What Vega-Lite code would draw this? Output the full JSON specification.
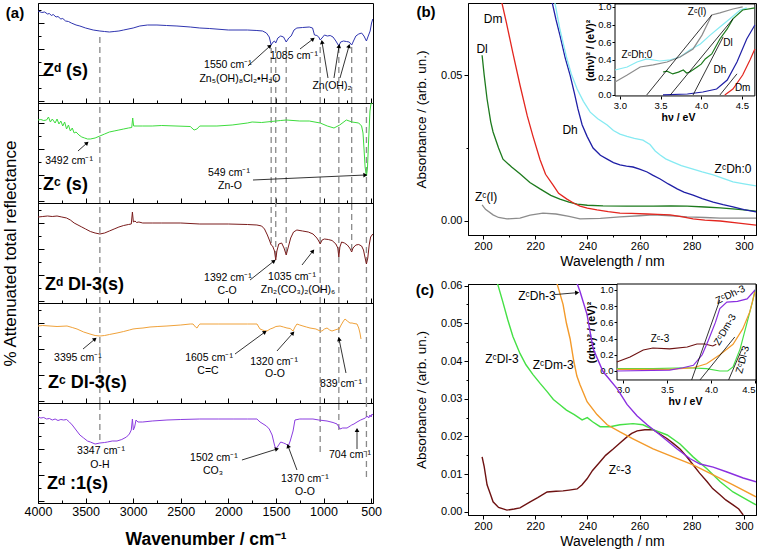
{
"$schema": "https://vega.github.io/schema/vega-lite/v6.json",
"padding": {"left": 0, "top": 1, "right": 0, "bottom": 0},
"background": "white",
"config": {
  "font": "Liberation Sans",
  "view": {"stroke": "black", "strokeWidth": 1},
  "axis": {"grid": false, "domainColor": "black", "tickColor": "black", "labelColor": "black", "titleColor": "black", "titleFontWeight": "normal", "labelFont": "Liberation Sans", "titleFont": "Liberation Sans", "labelFlush": false, "labelOverlap": false},
  "text": {"font": "Liberation Sans", "color": "black"}
},
"datasets": {
"spec": [
{"p":1,"w":4000,"y":92},{"p":1,"w":3960,"y":90.5},{"p":1,"w":3930,"y":91},{"p":1,"w":3900,"y":89},{"p":1,"w":3880,"y":89.5},{"p":1,"w":3860,"y":87.5},{"p":1,"w":3840,"y":88.5},{"p":1,"w":3810,"y":86},{"p":1,"w":3790,"y":86.5},{"p":1,"w":3760,"y":84},{"p":1,"w":3740,"y":84.5},{"p":1,"w":3710,"y":82},{"p":1,"w":3680,"y":81.5},{"p":1,"w":3650,"y":80},{"p":1,"w":3600,"y":78},{"p":1,"w":3560,"y":77},{"p":1,"w":3500,"y":75},{"p":1,"w":3420,"y":73},{"p":1,"w":3350,"y":72},{"p":1,"w":3300,"y":71.5},{"p":1,"w":3250,"y":71},{"p":1,"w":3200,"y":71.5},{"p":1,"w":3150,"y":72},{"p":1,"w":3100,"y":73},{"p":1,"w":3000,"y":75},{"p":1,"w":2930,"y":77},{"p":1,"w":2850,"y":78},{"p":1,"w":2750,"y":78},{"p":1,"w":2650,"y":77.5},{"p":1,"w":2540,"y":77},{"p":1,"w":2400,"y":76},{"p":1,"w":2300,"y":75},{"p":1,"w":2200,"y":74.5},{"p":1,"w":2000,"y":73},{"p":1,"w":1800,"y":73},{"p":1,"w":1700,"y":72.5},{"p":1,"w":1640,"y":72},{"p":1,"w":1600,"y":70},{"p":1,"w":1570,"y":66},{"p":1,"w":1550,"y":58},{"p":1,"w":1530,"y":61},{"p":1,"w":1515,"y":62},{"p":1,"w":1502,"y":60},{"p":1,"w":1480,"y":65},{"p":1,"w":1450,"y":67},{"p":1,"w":1420,"y":66},{"p":1,"w":1392,"y":61},{"p":1,"w":1365,"y":65},{"p":1,"w":1340,"y":67},{"p":1,"w":1310,"y":73},{"p":1,"w":1280,"y":75},{"p":1,"w":1220,"y":75.5},{"p":1,"w":1150,"y":76},{"p":1,"w":1115,"y":75},{"p":1,"w":1095,"y":68},{"p":1,"w":1070,"y":67.5},{"p":1,"w":1050,"y":66},{"p":1,"w":1035,"y":63},{"p":1,"w":1016,"y":65},{"p":1,"w":990,"y":68},{"p":1,"w":960,"y":67},{"p":1,"w":930,"y":67.5},{"p":1,"w":900,"y":66},{"p":1,"w":870,"y":62},{"p":1,"w":839,"y":57},{"p":1,"w":820,"y":61},{"p":1,"w":790,"y":62},{"p":1,"w":760,"y":61.5},{"p":1,"w":730,"y":61},{"p":1,"w":704,"y":58},{"p":1,"w":685,"y":62},{"p":1,"w":660,"y":67},{"p":1,"w":630,"y":69},{"p":1,"w":600,"y":70},{"p":1,"w":575,"y":67},{"p":1,"w":549,"y":62},{"p":1,"w":530,"y":67},{"p":1,"w":510,"y":72},{"p":1,"w":495,"y":80},{"p":1,"w":482,"y":84},
{"p":2,"w":4000,"y":83},{"p":2,"w":3970,"y":83.5},{"p":2,"w":3940,"y":82.5},{"p":2,"w":3910,"y":83},{"p":2,"w":3890,"y":86},{"p":2,"w":3870,"y":81},{"p":2,"w":3850,"y":84},{"p":2,"w":3820,"y":80},{"p":2,"w":3800,"y":84},{"p":2,"w":3780,"y":79},{"p":2,"w":3760,"y":82},{"p":2,"w":3740,"y":77},{"p":2,"w":3720,"y":81},{"p":2,"w":3700,"y":74},{"p":2,"w":3680,"y":78},{"p":2,"w":3660,"y":72},{"p":2,"w":3640,"y":75},{"p":2,"w":3620,"y":70},{"p":2,"w":3600,"y":71},{"p":2,"w":3570,"y":68},{"p":2,"w":3540,"y":66},{"p":2,"w":3510,"y":65},{"p":2,"w":3480,"y":64},{"p":2,"w":3450,"y":64},{"p":2,"w":3400,"y":65},{"p":2,"w":3350,"y":67},{"p":2,"w":3300,"y":69},{"p":2,"w":3250,"y":71},{"p":2,"w":3200,"y":72},{"p":2,"w":3150,"y":73},{"p":2,"w":3100,"y":74},{"p":2,"w":3050,"y":75},{"p":2,"w":3015,"y":75.5},{"p":2,"w":3005,"y":85},{"p":2,"w":2995,"y":77},{"p":2,"w":2950,"y":77},{"p":2,"w":2900,"y":77},{"p":2,"w":2800,"y":77},{"p":2,"w":2700,"y":77.5},{"p":2,"w":2550,"y":77},{"p":2,"w":2400,"y":76.5},{"p":2,"w":2360,"y":73},{"p":2,"w":2330,"y":74},{"p":2,"w":2300,"y":77},{"p":2,"w":2120,"y":77},{"p":2,"w":1960,"y":78},{"p":2,"w":1800,"y":80},{"p":2,"w":1750,"y":81},{"p":2,"w":1650,"y":80.5},{"p":2,"w":1550,"y":81.5},{"p":2,"w":1450,"y":82.5},{"p":2,"w":1390,"y":83},{"p":2,"w":1250,"y":82},{"p":2,"w":1150,"y":82},{"p":2,"w":1035,"y":80},{"p":2,"w":960,"y":77},{"p":2,"w":890,"y":75},{"p":2,"w":830,"y":78},{"p":2,"w":760,"y":83},{"p":2,"w":700,"y":81},{"p":2,"w":630,"y":80},{"p":2,"w":600,"y":77},{"p":2,"w":585,"y":70},{"p":2,"w":575,"y":55},{"p":2,"w":563,"y":36},{"p":2,"w":549,"y":27},{"p":2,"w":538,"y":35},{"p":2,"w":525,"y":65},{"p":2,"w":512,"y":92},{"p":2,"w":500,"y":100},{"p":2,"w":482,"y":100},
{"p":3,"w":4000,"y":86},{"p":3,"w":3950,"y":86.5},{"p":3,"w":3900,"y":87},{"p":3,"w":3850,"y":86.5},{"p":3,"w":3800,"y":87},{"p":3,"w":3750,"y":86},{"p":3,"w":3700,"y":85},{"p":3,"w":3660,"y":83},{"p":3,"w":3620,"y":80},{"p":3,"w":3580,"y":78},{"p":3,"w":3540,"y":76},{"p":3,"w":3500,"y":74},{"p":3,"w":3450,"y":71.5},{"p":3,"w":3400,"y":70},{"p":3,"w":3350,"y":69},{"p":3,"w":3300,"y":70},{"p":3,"w":3250,"y":72},{"p":3,"w":3200,"y":74},{"p":3,"w":3150,"y":76},{"p":3,"w":3100,"y":77.5},{"p":3,"w":3050,"y":78.5},{"p":3,"w":3020,"y":79},{"p":3,"w":3008,"y":91},{"p":3,"w":2998,"y":81},{"p":3,"w":2980,"y":82},{"p":3,"w":2965,"y":80.5},{"p":3,"w":2940,"y":81},{"p":3,"w":2900,"y":80},{"p":3,"w":2800,"y":80},{"p":3,"w":2700,"y":80},{"p":3,"w":2500,"y":80},{"p":3,"w":2300,"y":79},{"p":3,"w":2000,"y":79},{"p":3,"w":1800,"y":78.5},{"p":3,"w":1700,"y":78},{"p":3,"w":1650,"y":77},{"p":3,"w":1620,"y":74},{"p":3,"w":1590,"y":68},{"p":3,"w":1565,"y":62},{"p":3,"w":1550,"y":58},{"p":3,"w":1535,"y":57},{"p":3,"w":1515,"y":52},{"p":3,"w":1502,"y":43},{"p":3,"w":1490,"y":52},{"p":3,"w":1470,"y":59},{"p":3,"w":1440,"y":60},{"p":3,"w":1415,"y":55},{"p":3,"w":1392,"y":48},{"p":3,"w":1370,"y":56},{"p":3,"w":1345,"y":65},{"p":3,"w":1315,"y":71},{"p":3,"w":1280,"y":73},{"p":3,"w":1220,"y":72},{"p":3,"w":1160,"y":71},{"p":3,"w":1110,"y":69},{"p":3,"w":1070,"y":65},{"p":3,"w":1050,"y":62},{"p":3,"w":1035,"y":59},{"p":3,"w":1015,"y":63},{"p":3,"w":990,"y":64},{"p":3,"w":950,"y":63.5},{"p":3,"w":910,"y":62.5},{"p":3,"w":870,"y":59},{"p":3,"w":850,"y":55},{"p":3,"w":839,"y":46},{"p":3,"w":828,"y":56},{"p":3,"w":810,"y":61},{"p":3,"w":780,"y":60},{"p":3,"w":750,"y":58},{"p":3,"w":725,"y":55},{"p":3,"w":704,"y":51},{"p":3,"w":690,"y":55},{"p":3,"w":660,"y":58},{"p":3,"w":630,"y":58.5},{"p":3,"w":600,"y":57},{"p":3,"w":580,"y":53},{"p":3,"w":565,"y":46},{"p":3,"w":549,"y":39},{"p":3,"w":535,"y":45},{"p":3,"w":520,"y":58},{"p":3,"w":505,"y":66},{"p":3,"w":490,"y":68},{"p":3,"w":482,"y":69},
{"p":4,"w":4000,"y":77},{"p":4,"w":3950,"y":77.5},{"p":4,"w":3874,"y":77},{"p":4,"w":3800,"y":76.5},{"p":4,"w":3695,"y":77},{"p":4,"w":3640,"y":75.5},{"p":4,"w":3590,"y":74},{"p":4,"w":3520,"y":71},{"p":4,"w":3454,"y":69},{"p":4,"w":3400,"y":67.5},{"p":4,"w":3349,"y":67},{"p":4,"w":3300,"y":67.5},{"p":4,"w":3250,"y":68.5},{"p":4,"w":3170,"y":70},{"p":4,"w":3100,"y":71.5},{"p":4,"w":3040,"y":73},{"p":4,"w":3002,"y":74},{"p":4,"w":2960,"y":74.5},{"p":4,"w":2897,"y":75},{"p":4,"w":2823,"y":76},{"p":4,"w":2740,"y":76.5},{"p":4,"w":2645,"y":77},{"p":4,"w":2500,"y":78},{"p":4,"w":2400,"y":79},{"p":4,"w":2371,"y":79},{"p":4,"w":2345,"y":76},{"p":4,"w":2329,"y":75},{"p":4,"w":2310,"y":78},{"p":4,"w":2298,"y":79},{"p":4,"w":2100,"y":79},{"p":4,"w":1951,"y":79},{"p":4,"w":1800,"y":79},{"p":4,"w":1699,"y":79},{"p":4,"w":1667,"y":74},{"p":4,"w":1640,"y":73},{"p":4,"w":1615,"y":72},{"p":4,"w":1594,"y":72},{"p":4,"w":1560,"y":74},{"p":4,"w":1531,"y":75},{"p":4,"w":1500,"y":76.5},{"p":4,"w":1457,"y":77},{"p":4,"w":1420,"y":76},{"p":4,"w":1384,"y":75},{"p":4,"w":1350,"y":74.5},{"p":4,"w":1320,"y":72},{"p":4,"w":1300,"y":76},{"p":4,"w":1279,"y":79},{"p":4,"w":1250,"y":78},{"p":4,"w":1216,"y":77},{"p":4,"w":1180,"y":76},{"p":4,"w":1142,"y":75},{"p":4,"w":1080,"y":74},{"p":4,"w":1035,"y":72},{"p":4,"w":1016,"y":72},{"p":4,"w":990,"y":74},{"p":4,"w":963,"y":75},{"p":4,"w":935,"y":73},{"p":4,"w":911,"y":72},{"p":4,"w":880,"y":73},{"p":4,"w":848,"y":74},{"p":4,"w":839,"y":73.5},{"p":4,"w":815,"y":78},{"p":4,"w":790,"y":82},{"p":4,"w":774,"y":84},{"p":4,"w":750,"y":82},{"p":4,"w":722,"y":80},{"p":4,"w":700,"y":80},{"p":4,"w":680,"y":79.5},{"p":4,"w":648,"y":79},{"p":4,"w":630,"y":75},{"p":4,"w":617,"y":70},{"p":4,"w":606,"y":64},
{"p":5,"w":4000,"y":86},{"p":5,"w":3970,"y":85},{"p":5,"w":3940,"y":85.5},{"p":5,"w":3910,"y":84},{"p":5,"w":3880,"y":84.5},{"p":5,"w":3850,"y":83},{"p":5,"w":3820,"y":84},{"p":5,"w":3790,"y":82.5},{"p":5,"w":3760,"y":83.5},{"p":5,"w":3730,"y":83},{"p":5,"w":3700,"y":83.5},{"p":5,"w":3670,"y":81},{"p":5,"w":3640,"y":78},{"p":5,"w":3600,"y":73},{"p":5,"w":3560,"y":68},{"p":5,"w":3520,"y":65},{"p":5,"w":3480,"y":62},{"p":5,"w":3450,"y":61},{"p":5,"w":3400,"y":59},{"p":5,"w":3350,"y":60},{"p":5,"w":3300,"y":60.5},{"p":5,"w":3270,"y":61},{"p":5,"w":3220,"y":62},{"p":5,"w":3170,"y":62},{"p":5,"w":3120,"y":63.5},{"p":5,"w":3070,"y":66},{"p":5,"w":3040,"y":69},{"p":5,"w":3020,"y":73},{"p":5,"w":3008,"y":84},{"p":5,"w":2998,"y":73},{"p":5,"w":2985,"y":76},{"p":5,"w":2970,"y":83},{"p":5,"w":2950,"y":81},{"p":5,"w":2900,"y":81},{"p":5,"w":2800,"y":82},{"p":5,"w":2645,"y":83},{"p":5,"w":2500,"y":83.5},{"p":5,"w":2300,"y":84},{"p":5,"w":2100,"y":84},{"p":5,"w":1950,"y":84},{"p":5,"w":1800,"y":84},{"p":5,"w":1700,"y":84},{"p":5,"w":1667,"y":81},{"p":5,"w":1600,"y":77},{"p":5,"w":1570,"y":74},{"p":5,"w":1540,"y":68},{"p":5,"w":1515,"y":58},{"p":5,"w":1502,"y":54},{"p":5,"w":1485,"y":56},{"p":5,"w":1450,"y":61},{"p":5,"w":1420,"y":60},{"p":5,"w":1395,"y":59},{"p":5,"w":1370,"y":57},{"p":5,"w":1350,"y":62},{"p":5,"w":1320,"y":72},{"p":5,"w":1300,"y":83},{"p":5,"w":1250,"y":84},{"p":5,"w":1216,"y":84},{"p":5,"w":1111,"y":84},{"p":5,"w":1050,"y":83},{"p":5,"w":963,"y":82},{"p":5,"w":900,"y":80.5},{"p":5,"w":858,"y":79},{"p":5,"w":839,"y":76},{"p":5,"w":827,"y":74},{"p":5,"w":800,"y":75},{"p":5,"w":753,"y":75},{"p":5,"w":720,"y":77},{"p":5,"w":704,"y":78},{"p":5,"w":680,"y":79},{"p":5,"w":648,"y":81},{"p":5,"w":610,"y":83},{"p":5,"w":585,"y":84},{"p":5,"w":560,"y":85},{"p":5,"w":540,"y":87},{"p":5,"w":525,"y":85},{"p":5,"w":512,"y":88},{"p":5,"w":500,"y":86},{"p":5,"w":490,"y":89},{"p":5,"w":482,"y":88}
],
"dash": [
{"p":1,"w":3350,"y":0,"y2":67},{"p":1,"w":1550,"y":0,"y2":55},{"p":1,"w":1502,"y":0,"y2":57},{"p":1,"w":1392,"y":0,"y2":57},{"p":1,"w":1035,"y":0,"y2":60},{"p":1,"w":839,"y":0,"y2":55},{"p":1,"w":704,"y":0,"y2":56},{"p":1,"w":549,"y":0,"y2":60},
{"p":2,"w":3350,"y":0,"y2":100},{"p":2,"w":1550,"y":0,"y2":100},{"p":2,"w":1502,"y":0,"y2":100},{"p":2,"w":1392,"y":0,"y2":100},{"p":2,"w":1035,"y":0,"y2":100},{"p":2,"w":839,"y":0,"y2":100},{"p":2,"w":704,"y":0,"y2":100},{"p":2,"w":549,"y":0,"y2":100},
{"p":3,"w":3350,"y":0,"y2":100},{"p":3,"w":1550,"y":60,"y2":100},{"p":3,"w":1502,"y":46,"y2":100},{"p":3,"w":1392,"y":50,"y2":100},{"p":3,"w":1035,"y":0,"y2":100},{"p":3,"w":839,"y":0,"y2":100},{"p":3,"w":704,"y":53,"y2":100},{"p":3,"w":549,"y":0,"y2":100},
{"p":4,"w":3350,"y":0,"y2":100},{"p":4,"w":1035,"y":0,"y2":100},{"p":4,"w":839,"y":0,"y2":100},{"p":4,"w":549,"y":0,"y2":100},
{"p":5,"w":3350,"y":63,"y2":100},{"p":5,"w":1035,"y":51,"y2":100},{"p":5,"w":839,"y":73,"y2":100},{"p":5,"w":549,"y":26,"y2":100}
],
"ann": [
{"p":1,"w":2004,"y":38,"t":"1550 cm⁻¹"},{"p":1,"w":1878,"y":24,"t":"Zn₅(OH)₈Cl₂•H₂O"},{"p":1,"w":1310,"y":47,"t":"1085 cm⁻¹"},{"p":1,"w":911,"y":17,"t":"Zn(OH)₂"},
{"p":2,"w":3674,"y":42,"t":"3492 cm⁻¹"},{"p":2,"w":1993,"y":30,"t":"549 cm⁻¹"},{"p":2,"w":1983,"y":17,"t":"Zn-O"},
{"p":3,"w":2004,"y":25,"t":"1392 cm⁻¹"},{"p":3,"w":2014,"y":12,"t":"C-O"},{"p":3,"w":1331,"y":26,"t":"1035 cm⁻¹"},{"p":3,"w":1268,"y":13,"t":"Zn₂(CO₃)₂(OH)₆"},
{"p":4,"w":3580,"y":45,"t":"3395 cm⁻¹"},{"p":4,"w":2203,"y":45,"t":"1605 cm⁻¹"},{"p":4,"w":2214,"y":32,"t":"C=C"},{"p":4,"w":1520,"y":41,"t":"1320 cm⁻¹"},{"p":4,"w":1510,"y":29,"t":"O-O"},{"p":4,"w":816,"y":19,"t":"839 cm⁻¹"},
{"p":5,"w":3338,"y":52,"t":"3347 cm⁻¹"},{"p":5,"w":3349,"y":38,"t":"O-H"},{"p":5,"w":2151,"y":45,"t":"1502 cm⁻¹"},{"p":5,"w":2161,"y":32,"t":"CO₃"},{"p":5,"w":1195,"y":24,"t":"1370 cm⁻¹"},{"p":5,"w":1195,"y":11,"t":"O-O"},{"p":5,"w":722,"y":48,"t":"704 cm⁻¹"}
],
"lab": [
{"p":1,"w":3947,"y":32,"t":"Zᵈ (s)"},{"p":2,"w":3947,"y":18,"t":"Zᶜ (s)"},{"p":3,"w":3926,"y":18,"t":"Zᵈ Dl-3(s)"},{"p":4,"w":3895,"y":20,"t":"Zᶜ Dl-3(s)"},{"p":5,"w":3905,"y":19,"t":"Zᵈ :1(s)"}
],
"arr": [
{"p":1,"w":1562,"y":57,"w2":1794,"y2":37,"ang":48},{"p":1,"w":1110,"y":64,"w2":1247,"y2":54,"ang":52},{"p":1,"w":1016,"y":61,"w2":953,"y2":25,"ang":-10},{"p":1,"w":837,"y":57,"w2":890,"y2":25,"ang":9},{"p":1,"w":732,"y":57,"w2":827,"y2":25,"ang":16},
{"p":2,"w":3485,"y":60,"w2":3580,"y2":52,"ang":48},{"p":2,"w":560,"y":28,"w2":1741,"y2":23,"ang":87},
{"p":3,"w":1520,"y":42,"w2":1772,"y2":23,"ang":52},{"p":3,"w":1111,"y":52,"w2":1226,"y2":38,"ang":38},
{"p":4,"w":3401,"y":64,"w2":3527,"y2":54,"ang":50},{"p":4,"w":1615,"y":71,"w2":1930,"y2":49,"ang":54},{"p":4,"w":1321,"y":70,"w2":1489,"y2":52,"ang":42},{"p":4,"w":837,"y":64,"w2":764,"y2":30,"ang":-12},
{"p":5,"w":1489,"y":54,"w2":1857,"y2":43,"ang":73},{"p":5,"w":1373,"y":57,"w2":1279,"y2":33,"ang":-21},{"p":5,"w":648,"y":73,"w2":648,"y2":54,"ang":0}
],
"bm": [
{"s":"Zc(l)","nm":199.7,"a":0.0055},{"s":"Zc(l)","nm":201,"a":0.004},{"s":"Zc(l)","nm":203.9,"a":0.0021},{"s":"Zc(l)","nm":206,"a":0.0012},{"s":"Zc(l)","nm":209.2,"a":0.0007},{"s":"Zc(l)","nm":214.2,"a":0.001},{"s":"Zc(l)","nm":218.1,"a":0.002},{"s":"Zc(l)","nm":223,"a":0.0027},{"s":"Zc(l)","nm":228,"a":0.0024},{"s":"Zc(l)","nm":233,"a":0.0016},{"s":"Zc(l)","nm":237.2,"a":0.0007},{"s":"Zc(l)","nm":245,"a":0.0009},{"s":"Zc(l)","nm":252.5,"a":0.0014},{"s":"Zc(l)","nm":260,"a":0.0018},{"s":"Zc(l)","nm":265.2,"a":0.0021},{"s":"Zc(l)","nm":272,"a":0.0018},{"s":"Zc(l)","nm":278.2,"a":0.0014},{"s":"Zc(l)","nm":285,"a":0.0012},{"s":"Zc(l)","nm":290.9,"a":0.001},{"s":"Zc(l)","nm":298,"a":0.001},{"s":"Zc(l)","nm":304.6,"a":0.001},
{"s":"Dl","nm":199.7,"a":0.0568},{"s":"Dl","nm":200.5,"a":0.05},{"s":"Dl","nm":201.6,"a":0.0418},{"s":"Dl","nm":203,"a":0.034},{"s":"Dl","nm":203.9,"a":0.0305},{"s":"Dl","nm":206,"a":0.025},{"s":"Dl","nm":207.7,"a":0.0212},{"s":"Dl","nm":211,"a":0.0185},{"s":"Dl","nm":214.2,"a":0.0162},{"s":"Dl","nm":218,"a":0.0132},{"s":"Dl","nm":221.9,"a":0.011},{"s":"Dl","nm":226,"a":0.0088},{"s":"Dl","nm":229.5,"a":0.0075},{"s":"Dl","nm":233,"a":0.0065},{"s":"Dl","nm":236.1,"a":0.0058},{"s":"Dl","nm":240,"a":0.0054},{"s":"Dl","nm":246,"a":0.0052},{"s":"Dl","nm":255,"a":0.0051},{"s":"Dl","nm":265.2,"a":0.0051},{"s":"Dl","nm":272,"a":0.0052},{"s":"Dl","nm":278.2,"a":0.0051},{"s":"Dl","nm":285,"a":0.0048},{"s":"Dl","nm":290.9,"a":0.0045},{"s":"Dl","nm":298,"a":0.004},{"s":"Dl","nm":304.6,"a":0.0034},
{"s":"Dm","nm":205,"a":0.08},{"s":"Dm","nm":207.3,"a":0.0747},{"s":"Dm","nm":209,"a":0.068},{"s":"Dm","nm":211.5,"a":0.0575},{"s":"Dm","nm":214.2,"a":0.0466},{"s":"Dm","nm":217,"a":0.036},{"s":"Dm","nm":219.2,"a":0.029},{"s":"Dm","nm":221.9,"a":0.021},{"s":"Dm","nm":224,"a":0.016},{"s":"Dm","nm":226.9,"a":0.0123},{"s":"Dm","nm":229,"a":0.0095},{"s":"Dm","nm":232.2,"a":0.0075},{"s":"Dm","nm":235,"a":0.006},{"s":"Dm","nm":237.2,"a":0.0051},{"s":"Dm","nm":240,"a":0.0044},{"s":"Dm","nm":243.7,"a":0.0038},{"s":"Dm","nm":248,"a":0.0032},{"s":"Dm","nm":252.5,"a":0.0027},{"s":"Dm","nm":257,"a":0.0026},{"s":"Dm","nm":262.9,"a":0.0024},{"s":"Dm","nm":267,"a":0.0023},{"s":"Dm","nm":271.7,"a":0.0021},{"s":"Dm","nm":276,"a":0.0015},{"s":"Dm","nm":280.5,"a":0.0007},{"s":"Dm","nm":285,"a":0.0003},{"s":"Dm","nm":290.9,"a":0.0},{"s":"Dm","nm":298,"a":-0.0007},{"s":"Dm","nm":304.6,"a":-0.0014},
{"s":"Dh","nm":225,"a":0.08},{"s":"Dh","nm":226.5,"a":0.075},{"s":"Dh","nm":228,"a":0.069},{"s":"Dh","nm":229.5,"a":0.0637},{"s":"Dh","nm":231.5,"a":0.056},{"s":"Dh","nm":233.4,"a":0.05},{"s":"Dh","nm":235,"a":0.044},{"s":"Dh","nm":236.4,"a":0.0384},{"s":"Dh","nm":238,"a":0.033},{"s":"Dh","nm":239.9,"a":0.029},{"s":"Dh","nm":242.2,"a":0.025},{"s":"Dh","nm":245,"a":0.0225},{"s":"Dh","nm":247.6,"a":0.0212},{"s":"Dh","nm":250,"a":0.02},{"s":"Dh","nm":252.5,"a":0.0192},{"s":"Dh","nm":255,"a":0.0188},{"s":"Dh","nm":257.5,"a":0.0185},{"s":"Dh","nm":260,"a":0.0178},{"s":"Dh","nm":262.9,"a":0.0168},{"s":"Dh","nm":265,"a":0.0157},{"s":"Dh","nm":267.9,"a":0.0144},{"s":"Dh","nm":271,"a":0.0127},{"s":"Dh","nm":274.4,"a":0.011},{"s":"Dh","nm":277,"a":0.0099},{"s":"Dh","nm":280.5,"a":0.0089},{"s":"Dh","nm":284,"a":0.0077},{"s":"Dh","nm":288.2,"a":0.0065},{"s":"Dh","nm":292,"a":0.0056},{"s":"Dh","nm":295.8,"a":0.0048},{"s":"Dh","nm":300,"a":0.0039},{"s":"Dh","nm":304.6,"a":0.0031},
{"s":"ZcDh:0","nm":226,"a":0.08},{"s":"ZcDh:0","nm":227.6,"a":0.0747},{"s":"ZcDh:0","nm":229.5,"a":0.0657},{"s":"ZcDh:0","nm":231,"a":0.06},{"s":"ZcDh:0","nm":232.2,"a":0.0555},{"s":"ZcDh:0","nm":234,"a":0.05},{"s":"ZcDh:0","nm":236.1,"a":0.0452},{"s":"ZcDh:0","nm":238.5,"a":0.041},{"s":"ZcDh:0","nm":241.1,"a":0.0373},{"s":"ZcDh:0","nm":244,"a":0.035},{"s":"ZcDh:0","nm":247.6,"a":0.0329},{"s":"ZcDh:0","nm":250,"a":0.031},{"s":"ZcDh:0","nm":252.5,"a":0.0298},{"s":"ZcDh:0","nm":255.2,"a":0.029},{"s":"ZcDh:0","nm":258,"a":0.0283},{"s":"ZcDh:0","nm":261.3,"a":0.0277},{"s":"ZcDh:0","nm":264,"a":0.0262},{"s":"ZcDh:0","nm":266,"a":0.024},{"s":"ZcDh:0","nm":267.9,"a":0.0226},{"s":"ZcDh:0","nm":270,"a":0.0213},{"s":"ZcDh:0","nm":272.8,"a":0.0202},{"s":"ZcDh:0","nm":276,"a":0.019},{"s":"ZcDh:0","nm":280.5,"a":0.0178},{"s":"ZcDh:0","nm":284,"a":0.0168},{"s":"ZcDh:0","nm":288.2,"a":0.0158},{"s":"ZcDh:0","nm":292,"a":0.0146},{"s":"ZcDh:0","nm":295.8,"a":0.0134},{"s":"ZcDh:0","nm":300,"a":0.0127},{"s":"ZcDh:0","nm":304.6,"a":0.012}
],
"bt": [
{"nm":203.9,"a":0.0692,"t":"Dm"},{"nm":199.7,"a":0.0589,"t":"Dl"},{"nm":201.2,"a":0.0082,"t":"Zᶜ(l)"},{"nm":233.4,"a":0.0312,"t":"Dh"},{"nm":295.8,"a":0.0178,"t":"ZᶜDh:0"}
],
"bi": [
{"s":"ZcDh:0","e":2.94,"v":0.284},{"s":"ZcDh:0","e":3.09,"v":0.318},{"s":"ZcDh:0","e":3.21,"v":0.375},{"s":"ZcDh:0","e":3.33,"v":0.409},{"s":"ZcDh:0","e":3.49,"v":0.386},{"s":"ZcDh:0","e":3.62,"v":0.398},{"s":"ZcDh:0","e":3.74,"v":0.432},{"s":"ZcDh:0","e":3.86,"v":0.511},{"s":"ZcDh:0","e":3.99,"v":0.58},{"s":"ZcDh:0","e":4.11,"v":0.68},{"s":"ZcDh:0","e":4.23,"v":0.773},{"s":"ZcDh:0","e":4.35,"v":0.864},{"s":"ZcDh:0","e":4.48,"v":0.966},{"s":"ZcDh:0","e":4.56,"v":0.99},
{"s":"Zc(l)","e":2.94,"v":0.148},{"s":"Zc(l)","e":3.09,"v":0.227},{"s":"Zc(l)","e":3.25,"v":0.318},{"s":"Zc(l)","e":3.41,"v":0.341},{"s":"Zc(l)","e":3.58,"v":0.375},{"s":"Zc(l)","e":3.74,"v":0.432},{"s":"Zc(l)","e":3.9,"v":0.523},{"s":"Zc(l)","e":4.01,"v":0.68},{"s":"Zc(l)","e":4.13,"v":0.909},{"s":"Zc(l)","e":4.23,"v":0.932},{"s":"Zc(l)","e":4.39,"v":0.977},{"s":"Zc(l)","e":4.51,"v":1.0},
{"s":"Dl","e":3.53,"v":0.261},{"s":"Dl","e":3.58,"v":0.27},{"s":"Dl","e":3.65,"v":0.239},{"s":"Dl","e":3.72,"v":0.26},{"s":"Dl","e":3.78,"v":0.284},{"s":"Dl","e":3.82,"v":0.25},{"s":"Dl","e":3.86,"v":0.261},{"s":"Dl","e":3.95,"v":0.318},{"s":"Dl","e":4.0,"v":0.35},{"s":"Dl","e":4.05,"v":0.409},{"s":"Dl","e":4.13,"v":0.466},{"s":"Dl","e":4.23,"v":0.636},{"s":"Dl","e":4.32,"v":0.75},{"s":"Dl","e":4.39,"v":0.864},{"s":"Dl","e":4.51,"v":0.966},{"s":"Dl","e":4.66,"v":0.99},
{"s":"Dh","e":3.53,"v":0.0},{"s":"Dh","e":3.83,"v":0.011},{"s":"Dh","e":4.02,"v":0.034},{"s":"Dh","e":4.19,"v":0.068},{"s":"Dh","e":4.32,"v":0.17},{"s":"Dh","e":4.44,"v":0.375},{"s":"Dh","e":4.56,"v":0.636},{"s":"Dh","e":4.66,"v":0.795},
{"s":"Dm","e":4.29,"v":0.0},{"s":"Dm","e":4.39,"v":0.068},{"s":"Dm","e":4.51,"v":0.227},{"s":"Dm","e":4.6,"v":0.398},{"s":"Dm","e":4.66,"v":0.523}
],
"btan": [
{"e":3.33,"v":0.0,"e2":4.13,"v2":0.909},{"e":3.62,"v":0.0,"e2":4.39,"v2":0.864},{"e":3.9,"v":0.0,"e2":4.27,"v2":0.66},{"e":4.23,"v":0.0,"e2":4.44,"v2":0.24}
],
"bit": [
{"e":3.95,"v":0.943,"t":"Zᶜ(l)"},{"e":3.21,"v":0.455,"t":"ZᶜDh:0"},{"e":4.33,"v":0.59,"t":"Dl"},{"e":4.23,"v":0.284,"t":"Dh"},{"e":4.51,"v":0.08,"t":"Dm"}
],
"cm": [
{"s":"Zc-3","nm":199.7,"a":0.0146},{"s":"Zc-3","nm":200.5,"a":0.012},{"s":"Zc-3","nm":201.6,"a":0.0072},{"s":"Zc-3","nm":203,"a":0.0045},{"s":"Zc-3","nm":203.9,"a":0.0027},{"s":"Zc-3","nm":206,"a":0.0012},{"s":"Zc-3","nm":209.2,"a":0.0005},{"s":"Zc-3","nm":212,"a":0.0008},{"s":"Zc-3","nm":214.2,"a":0.0011},{"s":"Zc-3","nm":218.1,"a":0.0027},{"s":"Zc-3","nm":221,"a":0.0038},{"s":"Zc-3","nm":224.6,"a":0.0053},{"s":"Zc-3","nm":228,"a":0.0055},{"s":"Zc-3","nm":230.7,"a":0.0056},{"s":"Zc-3","nm":233,"a":0.0058},{"s":"Zc-3","nm":236.1,"a":0.0061},{"s":"Zc-3","nm":238,"a":0.0072},{"s":"Zc-3","nm":239.9,"a":0.0088},{"s":"Zc-3","nm":242,"a":0.011},{"s":"Zc-3","nm":244.9,"a":0.0133},{"s":"Zc-3","nm":247,"a":0.015},{"s":"Zc-3","nm":249.9,"a":0.0167},{"s":"Zc-3","nm":252.5,"a":0.0183},{"s":"Zc-3","nm":255.2,"a":0.0199},{"s":"Zc-3","nm":257,"a":0.0208},{"s":"Zc-3","nm":259.1,"a":0.0215},{"s":"Zc-3","nm":262,"a":0.0218},{"s":"Zc-3","nm":265.2,"a":0.0218},{"s":"Zc-3","nm":267.5,"a":0.0208},{"s":"Zc-3","nm":270.6,"a":0.0194},{"s":"Zc-3","nm":273,"a":0.0181},{"s":"Zc-3","nm":275.5,"a":0.0167},{"s":"Zc-3","nm":278,"a":0.0147},{"s":"Zc-3","nm":280.5,"a":0.0125},{"s":"Zc-3","nm":283,"a":0.0103},{"s":"Zc-3","nm":285.9,"a":0.008},{"s":"Zc-3","nm":288,"a":0.0062},{"s":"Zc-3","nm":290.9,"a":0.0045},{"s":"Zc-3","nm":293,"a":0.0032},{"s":"Zc-3","nm":295.8,"a":0.0019},{"s":"Zc-3","nm":298,"a":0.0008},{"s":"Zc-3","nm":299.7,"a":-0.0008},
{"s":"ZcDl-3","nm":205.4,"a":0.061},{"s":"ZcDl-3","nm":207.5,"a":0.056},{"s":"ZcDl-3","nm":209.5,"a":0.051},{"s":"ZcDl-3","nm":211.5,"a":0.0465},{"s":"ZcDl-3","nm":214.2,"a":0.042},{"s":"ZcDl-3","nm":216.5,"a":0.039},{"s":"ZcDl-3","nm":219.2,"a":0.0364},{"s":"ZcDl-3","nm":222,"a":0.034},{"s":"ZcDl-3","nm":224.6,"a":0.0319},{"s":"ZcDl-3","nm":227,"a":0.0298},{"s":"ZcDl-3","nm":229.5,"a":0.0284},{"s":"ZcDl-3","nm":232,"a":0.027},{"s":"ZcDl-3","nm":235,"a":0.0258},{"s":"ZcDl-3","nm":238,"a":0.0244},{"s":"ZcDl-3","nm":240,"a":0.025},{"s":"ZcDl-3","nm":242,"a":0.0239},{"s":"ZcDl-3","nm":244.9,"a":0.0226},{"s":"ZcDl-3","nm":248.7,"a":0.0226},{"s":"ZcDl-3","nm":252.5,"a":0.0231},{"s":"ZcDl-3","nm":257.5,"a":0.0234},{"s":"ZcDl-3","nm":261.3,"a":0.0231},{"s":"ZcDl-3","nm":265.2,"a":0.0218},{"s":"ZcDl-3","nm":270.6,"a":0.0204},{"s":"ZcDl-3","nm":275.5,"a":0.018},{"s":"ZcDl-3","nm":280.5,"a":0.0146},{"s":"ZcDl-3","nm":285.9,"a":0.0114},{"s":"ZcDl-3","nm":290.9,"a":0.008},{"s":"ZcDl-3","nm":295.8,"a":0.0053},{"s":"ZcDl-3","nm":301.2,"a":0.0032},{"s":"ZcDl-3","nm":304.6,"a":0.0019},
{"s":"ZcDm-3","nm":227.5,"a":0.064},{"s":"ZcDm-3","nm":228.4,"a":0.0605},{"s":"ZcDm-3","nm":230.7,"a":0.055},{"s":"ZcDm-3","nm":232,"a":0.05},{"s":"ZcDm-3","nm":233.4,"a":0.0459},{"s":"ZcDm-3","nm":234.8,"a":0.04},{"s":"ZcDm-3","nm":236,"a":0.036},{"s":"ZcDm-3","nm":237.2,"a":0.0337},{"s":"ZcDm-3","nm":239.9,"a":0.0292},{"s":"ZcDm-3","nm":243.7,"a":0.0258},{"s":"ZcDm-3","nm":247.6,"a":0.0231},{"s":"ZcDm-3","nm":252.5,"a":0.0212},{"s":"ZcDm-3","nm":257.5,"a":0.0194},{"s":"ZcDm-3","nm":265.2,"a":0.0167},{"s":"ZcDm-3","nm":272.8,"a":0.0146},{"s":"ZcDm-3","nm":280.5,"a":0.0125},{"s":"ZcDm-3","nm":288.2,"a":0.0098},{"s":"ZcDm-3","nm":295.8,"a":0.0072},{"s":"ZcDm-3","nm":304.6,"a":0.004},
{"s":"ZcDh-3","nm":235.5,"a":0.064},{"s":"ZcDh-3","nm":236.1,"a":0.0605},{"s":"ZcDh-3","nm":237.2,"a":0.0584},{"s":"ZcDh-3","nm":239.9,"a":0.0523},{"s":"ZcDh-3","nm":242.2,"a":0.0433},{"s":"ZcDh-3","nm":246,"a":0.0372},{"s":"ZcDh-3","nm":251.4,"a":0.0327},{"s":"ZcDh-3","nm":255.2,"a":0.0285},{"s":"ZcDh-3","nm":259,"a":0.0255},{"s":"ZcDh-3","nm":262.9,"a":0.0231},{"s":"ZcDh-3","nm":267.9,"a":0.0204},{"s":"ZcDh-3","nm":274.4,"a":0.0167},{"s":"ZcDh-3","nm":279.4,"a":0.0141},{"s":"ZcDh-3","nm":283.2,"a":0.0127},{"s":"ZcDh-3","nm":288.2,"a":0.0119},{"s":"ZcDh-3","nm":293.5,"a":0.0106},{"s":"ZcDh-3","nm":299.7,"a":0.009},{"s":"ZcDh-3","nm":304.6,"a":0.008}
],
"ct": [
{"nm":220.7,"a":0.0571,"t":"ZᶜDh-3"},{"nm":207.3,"a":0.0406,"t":"ZᶜDl-3"},{"nm":226.9,"a":0.039,"t":"ZᶜDm-3"},{"nm":252.5,"a":0.0111,"t":"Zᶜ-3"}
],
"carr": [
{"nm":236.1,"a":0.0581,"nm2":227.6,"a2":0.0576,"ang":85}
],
"ci": [
{"s":"Zc-3","e":2.93,"v":0.111},{"s":"Zc-3","e":3.08,"v":0.173},{"s":"Zc-3","e":3.23,"v":0.259},{"s":"Zc-3","e":3.34,"v":0.284},{"s":"Zc-3","e":3.53,"v":0.272},{"s":"Zc-3","e":3.73,"v":0.296},{"s":"Zc-3","e":3.84,"v":0.333},{"s":"Zc-3","e":3.93,"v":0.333},{"s":"Zc-3","e":4.02,"v":0.309},{"s":"Zc-3","e":4.06,"v":0.33},
{"s":"ZcDl-3","e":2.93,"v":0.03},{"s":"ZcDl-3","e":3.34,"v":0.03},{"s":"ZcDl-3","e":3.73,"v":0.04},{"s":"ZcDl-3","e":3.95,"v":0.03},{"s":"ZcDl-3","e":4.1,"v":0.0},{"s":"ZcDl-3","e":4.19,"v":0.0},{"s":"ZcDl-3","e":4.25,"v":0.05},{"s":"ZcDl-3","e":4.33,"v":0.27},{"s":"ZcDl-3","e":4.41,"v":0.6},{"s":"ZcDl-3","e":4.47,"v":0.85},{"s":"ZcDl-3","e":4.5,"v":1.0},
{"s":"ZcDm-3","e":2.93,"v":0.02},{"s":"ZcDm-3","e":3.53,"v":0.02},{"s":"ZcDm-3","e":3.8,"v":0.04},{"s":"ZcDm-3","e":3.95,"v":0.09},{"s":"ZcDm-3","e":4.1,"v":0.2},{"s":"ZcDm-3","e":4.25,"v":0.33},{"s":"ZcDm-3","e":4.36,"v":0.52},{"s":"ZcDm-3","e":4.44,"v":0.73},{"s":"ZcDm-3","e":4.5,"v":0.98},
{"s":"ZcDh-3","e":2.93,"v":0.0},{"s":"ZcDh-3","e":3.53,"v":0.01},{"s":"ZcDh-3","e":3.68,"v":0.04},{"s":"ZcDh-3","e":3.8,"v":0.07},{"s":"ZcDh-3","e":3.9,"v":0.2},{"s":"ZcDh-3","e":3.97,"v":0.38},{"s":"ZcDh-3","e":4.05,"v":0.6},{"s":"ZcDh-3","e":4.1,"v":0.77},{"s":"ZcDh-3","e":4.18,"v":0.85},{"s":"ZcDh-3","e":4.3,"v":0.86},{"s":"ZcDh-3","e":4.41,"v":0.89},{"s":"ZcDh-3","e":4.5,"v":1.0}
],
"ctan": [
{"e":3.78,"v":-0.11,"e2":4.1,"v2":0.877},{"e":3.875,"v":-0.11,"e2":4.27,"v2":0.42},{"e":4.2,"v":-0.11,"e2":4.35,"v2":0.27}
],
"cit": [
{"e":3.42,"v":0.40,"t":"Zᶜ-3","g":0},{"e":4.22,"v":0.94,"t":"ZᶜDh-3","g":1},{"e":4.16,"v":0.51,"t":"ZᶜDm-3","g":2},{"e":4.36,"v":0.14,"t":"ZᶜDl-3","g":3}
],
"frames": [
{"k":"b","e":2.94,"e2":4.66,"v":-0.011,"v2":1.034},{"k":"c","e":2.932,"e2":4.511,"v":-0.111,"v2":1.074}
]
},
"spacing": 31,
"resolve": {"scale": {"color": "independent", "strokeWidth": "independent"}},
"hconcat": [
{
"spacing": 0,
"bounds": "flush",
"vconcat": [
{"width": 335, "height": 100,
 "encoding": {
  "x": {"field": "w", "type": "quantitative", "scale": {"domain": [4000, 480], "nice": false, "zero": false}, "axis": {"title": null, "labels": false, "values": [4000,3750,3500,3250,3000,2750,2500,2250,2000,1750,1500,1250,1000,750,500], "tickSize": {"condition": {"test": "datum.value % 500 === 0", "value": -5}, "value": -3}}},
  "y": {"field": "y", "type": "quantitative", "scale": {"domain": [0, 100], "nice": false, "zero": false}, "axis": {"title": null, "labels": false, "values": [2,15,28,41,54,67,80,93], "tickSize": {"condition": {"test": "(datum.value - 2) % 26 === 0", "value": -6}, "value": -3}}}
 },
 "layer": [
  {"data": {"name": "dash"}, "transform": [{"filter": "datum.p === 1"}], "mark": {"type": "rule", "strokeDash": [6, 4], "color": "#8a8a8a", "strokeWidth": 1.3}, "encoding": {"y2": {"field": "y2"}}},
  {"data": {"name": "spec"}, "transform": [{"filter": "datum.p === 1"}], "mark": {"type": "line", "color": "#2f35b0", "strokeWidth": 1, "clip": true}, "encoding": {}},
  {"data": {"name": "arr"}, "transform": [{"filter": "datum.p === 1"}], "mark": {"type": "rule", "color": "black", "strokeWidth": 0.8}, "encoding": {"x2": {"field": "w2"}, "y2": {"field": "y2"}}},
  {"data": {"name": "arr"}, "transform": [{"filter": "datum.p === 1"}], "mark": {"type": "point", "shape": "triangle-up", "filled": true, "color": "black", "size": 22, "opacity": 1}, "encoding": {"angle": {"field": "ang", "type": "quantitative", "scale": null}}},
  {"data": {"name": "ann"}, "transform": [{"filter": "datum.p === 1"}], "mark": {"type": "text", "fontSize": 10.5, "align": "center", "baseline": "middle"}, "encoding": {"text": {"field": "t"}}},
  {"data": {"name": "lab"}, "transform": [{"filter": "datum.p === 1"}], "mark": {"type": "text", "fontSize": 18, "fontWeight": "bold", "align": "left", "baseline": "middle"}, "encoding": {"text": {"field": "t"}}},
  {"data": {"values": [{"w": 4242, "y": 90, "t": "(a)"}]}, "mark": {"type": "text", "fontSize": 15, "fontWeight": "bold", "align": "center", "baseline": "middle"}, "encoding": {"text": {"field": "t"}}}
 ]
},
{"width": 335, "height": 100,
 "encoding": {
  "x": {"field": "w", "type": "quantitative", "scale": {"domain": [4000, 480], "nice": false, "zero": false}, "axis": {"title": null, "labels": false, "values": [4000,3750,3500,3250,3000,2750,2500,2250,2000,1750,1500,1250,1000,750,500], "tickSize": {"condition": {"test": "datum.value % 500 === 0", "value": -5}, "value": -3}}},
  "y": {"field": "y", "type": "quantitative", "scale": {"domain": [0, 100], "nice": false, "zero": false}, "axis": {"title": null, "labels": false, "values": [2,15,28,41,54,67,80,93], "tickSize": {"condition": {"test": "(datum.value - 2) % 26 === 0", "value": -6}, "value": -3}}}
 },
 "layer": [
  {"data": {"name": "dash"}, "transform": [{"filter": "datum.p === 2"}], "mark": {"type": "rule", "strokeDash": [6, 4], "color": "#8a8a8a", "strokeWidth": 1.3}, "encoding": {"y2": {"field": "y2"}}},
  {"data": {"name": "spec"}, "transform": [{"filter": "datum.p === 2"}], "mark": {"type": "line", "color": "#3ddc3d", "strokeWidth": 1, "clip": true}, "encoding": {}},
  {"data": {"name": "arr"}, "transform": [{"filter": "datum.p === 2"}], "mark": {"type": "rule", "color": "black", "strokeWidth": 0.8}, "encoding": {"x2": {"field": "w2"}, "y2": {"field": "y2"}}},
  {"data": {"name": "arr"}, "transform": [{"filter": "datum.p === 2"}], "mark": {"type": "point", "shape": "triangle-up", "filled": true, "color": "black", "size": 22, "opacity": 1}, "encoding": {"angle": {"field": "ang", "type": "quantitative", "scale": null}}},
  {"data": {"name": "ann"}, "transform": [{"filter": "datum.p === 2"}], "mark": {"type": "text", "fontSize": 10.5, "align": "center", "baseline": "middle"}, "encoding": {"text": {"field": "t"}}},
  {"data": {"name": "lab"}, "transform": [{"filter": "datum.p === 2"}], "mark": {"type": "text", "fontSize": 18, "fontWeight": "bold", "align": "left", "baseline": "middle"}, "encoding": {"text": {"field": "t"}}}
 ]
},
{"width": 335, "height": 100,
 "encoding": {
  "x": {"field": "w", "type": "quantitative", "scale": {"domain": [4000, 480], "nice": false, "zero": false}, "axis": {"title": null, "labels": false, "values": [4000,3750,3500,3250,3000,2750,2500,2250,2000,1750,1500,1250,1000,750,500], "tickSize": {"condition": {"test": "datum.value % 500 === 0", "value": -5}, "value": -3}}},
  "y": {"field": "y", "type": "quantitative", "scale": {"domain": [0, 100], "nice": false, "zero": false}, "axis": {"title": "% Attenuated total reflectance", "titleFontSize": 17, "titlePadding": 18, "labels": false, "values": [2,15,28,41,54,67,80,93], "tickSize": {"condition": {"test": "(datum.value - 2) % 26 === 0", "value": -6}, "value": -3}}}
 },
 "layer": [
  {"data": {"name": "dash"}, "transform": [{"filter": "datum.p === 3"}], "mark": {"type": "rule", "strokeDash": [6, 4], "color": "#8a8a8a", "strokeWidth": 1.3}, "encoding": {"y2": {"field": "y2"}}},
  {"data": {"name": "spec"}, "transform": [{"filter": "datum.p === 3"}], "mark": {"type": "line", "color": "#7a1c1c", "strokeWidth": 1, "clip": true}, "encoding": {}},
  {"data": {"name": "arr"}, "transform": [{"filter": "datum.p === 3"}], "mark": {"type": "rule", "color": "black", "strokeWidth": 0.8}, "encoding": {"x2": {"field": "w2"}, "y2": {"field": "y2"}}},
  {"data": {"name": "arr"}, "transform": [{"filter": "datum.p === 3"}], "mark": {"type": "point", "shape": "triangle-up", "filled": true, "color": "black", "size": 22, "opacity": 1}, "encoding": {"angle": {"field": "ang", "type": "quantitative", "scale": null}}},
  {"data": {"name": "ann"}, "transform": [{"filter": "datum.p === 3"}], "mark": {"type": "text", "fontSize": 10.5, "align": "center", "baseline": "middle"}, "encoding": {"text": {"field": "t"}}},
  {"data": {"name": "lab"}, "transform": [{"filter": "datum.p === 3"}], "mark": {"type": "text", "fontSize": 18, "fontWeight": "bold", "align": "left", "baseline": "middle"}, "encoding": {"text": {"field": "t"}}}
 ]
},
{"width": 335, "height": 100,
 "encoding": {
  "x": {"field": "w", "type": "quantitative", "scale": {"domain": [4000, 480], "nice": false, "zero": false}, "axis": {"title": null, "labels": false, "values": [4000,3750,3500,3250,3000,2750,2500,2250,2000,1750,1500,1250,1000,750,500], "tickSize": {"condition": {"test": "datum.value % 500 === 0", "value": -5}, "value": -3}}},
  "y": {"field": "y", "type": "quantitative", "scale": {"domain": [0, 100], "nice": false, "zero": false}, "axis": {"title": null, "labels": false, "values": [2,15,28,41,54,67,80,93], "tickSize": {"condition": {"test": "(datum.value - 2) % 26 === 0", "value": -6}, "value": -3}}}
 },
 "layer": [
  {"data": {"name": "dash"}, "transform": [{"filter": "datum.p === 4"}], "mark": {"type": "rule", "strokeDash": [6, 4], "color": "#8a8a8a", "strokeWidth": 1.3}, "encoding": {"y2": {"field": "y2"}}},
  {"data": {"name": "spec"}, "transform": [{"filter": "datum.p === 4"}], "mark": {"type": "line", "color": "#f0a23a", "strokeWidth": 1, "clip": true}, "encoding": {}},
  {"data": {"name": "arr"}, "transform": [{"filter": "datum.p === 4"}], "mark": {"type": "rule", "color": "black", "strokeWidth": 0.8}, "encoding": {"x2": {"field": "w2"}, "y2": {"field": "y2"}}},
  {"data": {"name": "arr"}, "transform": [{"filter": "datum.p === 4"}], "mark": {"type": "point", "shape": "triangle-up", "filled": true, "color": "black", "size": 22, "opacity": 1}, "encoding": {"angle": {"field": "ang", "type": "quantitative", "scale": null}}},
  {"data": {"name": "ann"}, "transform": [{"filter": "datum.p === 4"}], "mark": {"type": "text", "fontSize": 10.5, "align": "center", "baseline": "middle"}, "encoding": {"text": {"field": "t"}}},
  {"data": {"name": "lab"}, "transform": [{"filter": "datum.p === 4"}], "mark": {"type": "text", "fontSize": 18, "fontWeight": "bold", "align": "left", "baseline": "middle"}, "encoding": {"text": {"field": "t"}}}
 ]
},
{"width": 335, "height": 100,
 "encoding": {
  "x": {"field": "w", "type": "quantitative", "scale": {"domain": [4000, 480], "nice": false, "zero": false}, "axis": {"title": "Wavenumber / cm⁻¹", "titleFontSize": 17.5, "titleFontWeight": "bold", "titlePadding": 11, "labels": true, "labelFontSize": 12.5, "labelPadding": 7, "format": "d", "labelExpr": "datum.value % 500 === 0 ? datum.label : ''", "values": [4000,3750,3500,3250,3000,2750,2500,2250,2000,1750,1500,1250,1000,750,500], "tickSize": {"condition": {"test": "datum.value % 500 === 0", "value": -5}, "value": -3}}},
  "y": {"field": "y", "type": "quantitative", "scale": {"domain": [0, 100], "nice": false, "zero": false}, "axis": {"title": null, "labels": false, "values": [2,15,28,41,54,67,80,93], "tickSize": {"condition": {"test": "(datum.value - 2) % 26 === 0", "value": -6}, "value": -3}}}
 },
 "layer": [
  {"data": {"name": "dash"}, "transform": [{"filter": "datum.p === 5"}], "mark": {"type": "rule", "strokeDash": [6, 4], "color": "#8a8a8a", "strokeWidth": 1.3}, "encoding": {"y2": {"field": "y2"}}},
  {"data": {"name": "spec"}, "transform": [{"filter": "datum.p === 5"}], "mark": {"type": "line", "color": "#8b3de0", "strokeWidth": 1, "clip": true}, "encoding": {}},
  {"data": {"name": "arr"}, "transform": [{"filter": "datum.p === 5"}], "mark": {"type": "rule", "color": "black", "strokeWidth": 0.8}, "encoding": {"x2": {"field": "w2"}, "y2": {"field": "y2"}}},
  {"data": {"name": "arr"}, "transform": [{"filter": "datum.p === 5"}], "mark": {"type": "point", "shape": "triangle-up", "filled": true, "color": "black", "size": 22, "opacity": 1}, "encoding": {"angle": {"field": "ang", "type": "quantitative", "scale": null}}},
  {"data": {"name": "ann"}, "transform": [{"filter": "datum.p === 5"}], "mark": {"type": "text", "fontSize": 10.5, "align": "center", "baseline": "middle"}, "encoding": {"text": {"field": "t"}}},
  {"data": {"name": "lab"}, "transform": [{"filter": "datum.p === 5"}], "mark": {"type": "text", "fontSize": 18, "fontWeight": "bold", "align": "left", "baseline": "middle"}, "encoding": {"text": {"field": "t"}}}
 ]
}
]
},
{
"spacing": 49,
"bounds": "flush",
"resolve": {"scale": {"color": "independent", "strokeWidth": "independent"}},
"vconcat": [
{"width": 288, "height": 232,
 "resolve": {"scale": {"x": "independent", "y": "independent"}, "axis": {"x": "independent", "y": "independent"}},
 "layer": [
  {"encoding": {
    "x": {"field": "nm", "type": "quantitative", "scale": {"domain": [194.3, 304.6], "nice": false, "zero": false}, "axis": {"orient": "bottom", "title": "Wavelength / nm", "titleFontSize": 14, "titlePadding": 3, "values": [200,210,220,230,240,250,260,270,280,290,300], "labelExpr": "datum.value % 20 === 0 ? datum.label : ''", "tickSize": {"condition": {"test": "datum.value % 20 === 0", "value": 4}, "value": 2}, "labelFontSize": 11, "labelPadding": 1}},
    "y": {"field": "a", "type": "quantitative", "scale": {"domain": [-0.0048, 0.0747], "nice": false, "zero": false}, "axis": {"orient": "left", "title": "Absorbance / (arb. un.)", "titleFontSize": 13.5, "titlePadding": 12, "values": [0, 0.025, 0.05], "format": ".2f", "labelExpr": "datum.value === 0.025 ? '' : datum.label", "tickSize": {"condition": {"test": "datum.value === 0.025", "value": 2}, "value": 4}, "labelFontSize": 11, "labelPadding": 2}}
   },
   "layer": [
    {"data": {"name": "bm"}, "mark": {"type": "line", "clip": true}, "encoding": {
      "color": {"field": "s", "type": "nominal", "scale": {"domain": ["Zc(l)", "Dl", "Dm", "Dh", "ZcDh:0"], "range": ["#8c8c8c", "#1d7a1d", "#e3261f", "#1f1fa6", "#86eaf2"]}, "legend": null},
      "strokeWidth": {"field": "s", "type": "nominal", "scale": {"domain": ["Zc(l)", "Dl", "Dm", "Dh", "ZcDh:0"], "range": [1.3, 1.3, 1.3, 1.5, 3]}, "legend": null}}},
    {"data": {"name": "bt"}, "mark": {"type": "text", "fontSize": 12, "align": "center", "baseline": "middle"}, "encoding": {"text": {"field": "t"}}},
    {"data": {"values": [{"nm": 178.2, "a": 0.0716, "t": "(b)"}]}, "mark": {"type": "text", "fontSize": 15, "fontWeight": "bold", "align": "center", "baseline": "middle"}, "encoding": {"text": {"field": "t"}}}
   ]
  },
  {"encoding": {
    "x": {"field": "e", "type": "quantitative", "scale": {"domain": [1.132, 4.674], "nice": false, "zero": false}, "axis": {"orient": "bottom", "offset": -139, "domain": false, "title": "hν / eV", "titleFontSize": 10.5, "titleFontWeight": "bold", "titleX": 210, "titleY": 16, "titleAlign": "center", "titleBaseline": "top", "values": [3, 3.5, 4, 4.5], "format": ".1f", "tickSize": 3, "labelFontSize": 9.5, "labelPadding": 1}},
    "y": {"field": "v", "type": "quantitative", "scale": {"domain": [-1.591, 1.045], "nice": false, "zero": false}, "axis": {"orient": "left", "offset": -147, "domain": false, "title": "(αhν)² / (eV)²", "titleFontSize": 10.5, "titleFontWeight": "bold", "titleX": -20, "titleY": 47, "titleAngle": 270, "titleAlign": "center", "titleBaseline": "bottom", "values": [0, 0.2, 0.4, 0.6, 0.8, 1.0], "format": ".1f", "tickSize": 3, "labelFontSize": 9.5, "labelPadding": 1}}
   },
   "layer": [
    {"data": {"name": "frames"}, "transform": [{"filter": "datum.k === 'b'"}], "mark": {"type": "rect", "fill": "white", "stroke": "black", "strokeWidth": 1}, "encoding": {"x2": {"field": "e2"}, "y2": {"field": "v2"}}},
    {"data": {"name": "bi"}, "mark": {"type": "line", "strokeWidth": 1.2}, "encoding": {
      "color": {"field": "s", "type": "nominal", "scale": {"domain": ["Zc(l)", "Dl", "Dm", "Dh", "ZcDh:0"], "range": ["#8c8c8c", "#1d7a1d", "#e3261f", "#1f1fa6", "#86eaf2"]}, "legend": null}}},
    {"data": {"name": "btan"}, "mark": {"type": "rule", "color": "black", "strokeWidth": 0.8}, "encoding": {"x2": {"field": "e2"}, "y2": {"field": "v2"}}},
    {"data": {"name": "bit"}, "mark": {"type": "text", "fontSize": 10, "align": "center", "baseline": "middle"}, "encoding": {"text": {"field": "t"}}}
   ]
  }
 ]
},
{"width": 288, "height": 231,
 "resolve": {"scale": {"x": "independent", "y": "independent"}, "axis": {"x": "independent", "y": "independent"}},
 "layer": [
  {"encoding": {
    "x": {"field": "nm", "type": "quantitative", "scale": {"domain": [194.3, 304.6], "nice": false, "zero": false}, "axis": {"orient": "bottom", "title": "Wavelength / nm", "titleFontSize": 14, "titlePadding": 3, "values": [200,210,220,230,240,250,260,270,280,290,300], "labelExpr": "datum.value % 20 === 0 ? datum.label : ''", "tickSize": {"condition": {"test": "datum.value % 20 === 0", "value": 4}, "value": 2}, "labelFontSize": 11, "labelPadding": 1}},
    "y": {"field": "a", "type": "quantitative", "scale": {"domain": [-0.0008, 0.0604], "nice": false, "zero": false}, "axis": {"orient": "left", "title": "Absorbance / (arb. un.)", "titleFontSize": 13.5, "titlePadding": 12, "values": [0, 0.005, 0.01, 0.015, 0.02, 0.025, 0.03, 0.035, 0.04, 0.045, 0.05, 0.055, 0.06], "format": ".2f", "labelExpr": "round(datum.value * 1000) % 10 === 0 ? datum.label : ''", "tickSize": {"condition": {"test": "round(datum.value * 1000) % 10 === 0", "value": 4}, "value": 2}, "labelFontSize": 11, "labelPadding": 2}}
   },
   "layer": [
    {"data": {"name": "cm"}, "mark": {"type": "line", "clip": true, "strokeWidth": 1.4}, "encoding": {
      "color": {"field": "s", "type": "nominal", "scale": {"domain": ["Zc-3", "ZcDl-3", "ZcDm-3", "ZcDh-3"], "range": ["#6e1212", "#45e045", "#f39a2a", "#8a2fe0"]}, "legend": null}}},
    {"data": {"name": "ct"}, "mark": {"type": "text", "fontSize": 12, "align": "center", "baseline": "middle"}, "encoding": {"text": {"field": "t"}}},
    {"data": {"name": "carr"}, "mark": {"type": "rule", "color": "black", "strokeWidth": 0.8}, "encoding": {"x2": {"field": "nm2"}, "y2": {"field": "a2"}}},
    {"data": {"name": "carr"}, "mark": {"type": "point", "shape": "triangle-up", "filled": true, "color": "black", "size": 22, "opacity": 1}, "encoding": {"angle": {"field": "ang", "type": "quantitative", "scale": null}}},
    {"data": {"values": [{"nm": 177.8, "a": 0.0587, "t": "(c)"}]}, "mark": {"type": "text", "fontSize": 15, "fontWeight": "bold", "align": "center", "baseline": "middle"}, "encoding": {"text": {"field": "t"}}}
   ]
  },
  {"encoding": {
    "x": {"field": "e", "type": "quantitative", "scale": {"domain": [1.239, 4.511], "nice": false, "zero": false}, "axis": {"orient": "bottom", "offset": -135, "domain": false, "title": "hν / eV", "titleFontSize": 10.5, "titleFontWeight": "bold", "titleX": 217, "titleY": 16, "titleAlign": "center", "titleBaseline": "top", "values": [3, 3.5, 4, 4.5], "format": ".1f", "tickSize": 3, "labelFontSize": 9.5, "labelPadding": 1, "labelFlush": true, "labelFlushOffset": 0}},
    "y": {"field": "v", "type": "quantitative", "scale": {"domain": [-1.778, 1.074], "nice": false, "zero": false}, "axis": {"orient": "left", "offset": -149, "domain": false, "title": "(αhν)² / (eV)²", "titleFontSize": 10.5, "titleFontWeight": "bold", "titleX": -21, "titleY": 48, "titleAngle": 270, "titleAlign": "center", "titleBaseline": "bottom", "values": [0, 0.2, 0.4, 0.6, 0.8, 1.0], "format": ".1f", "tickSize": 3, "labelFontSize": 9.5, "labelPadding": 1}}
   },
   "layer": [
    {"data": {"name": "frames"}, "transform": [{"filter": "datum.k === 'c'"}], "mark": {"type": "rect", "fill": "white", "stroke": "black", "strokeWidth": 1}, "encoding": {"x2": {"field": "e2"}, "y2": {"field": "v2"}}},
    {"data": {"name": "ci"}, "mark": {"type": "line", "strokeWidth": 1.2}, "encoding": {
      "color": {"field": "s", "type": "nominal", "scale": {"domain": ["Zc-3", "ZcDl-3", "ZcDm-3", "ZcDh-3"], "range": ["#6e1212", "#45e045", "#f39a2a", "#8a2fe0"]}, "legend": null}}},
    {"data": {"name": "ctan"}, "mark": {"type": "rule", "color": "black", "strokeWidth": 0.8}, "encoding": {"x2": {"field": "e2"}, "y2": {"field": "v2"}}},
    {"data": {"name": "cit"}, "transform": [{"filter": "datum.g === 0"}], "mark": {"type": "text", "fontSize": 10, "align": "center", "baseline": "middle"}, "encoding": {"text": {"field": "t"}}},
    {"data": {"name": "cit"}, "transform": [{"filter": "datum.g === 1"}], "mark": {"type": "text", "fontSize": 10, "align": "center", "baseline": "middle", "angle": 335}, "encoding": {"text": {"field": "t"}}},
    {"data": {"name": "cit"}, "transform": [{"filter": "datum.g === 2"}], "mark": {"type": "text", "fontSize": 10, "align": "center", "baseline": "middle", "angle": 300}, "encoding": {"text": {"field": "t"}}},
    {"data": {"name": "cit"}, "transform": [{"filter": "datum.g === 3"}], "mark": {"type": "text", "fontSize": 10, "align": "center", "baseline": "middle", "angle": 285}, "encoding": {"text": {"field": "t"}}}
   ]
  }
 ]
}
]
}
]
}
